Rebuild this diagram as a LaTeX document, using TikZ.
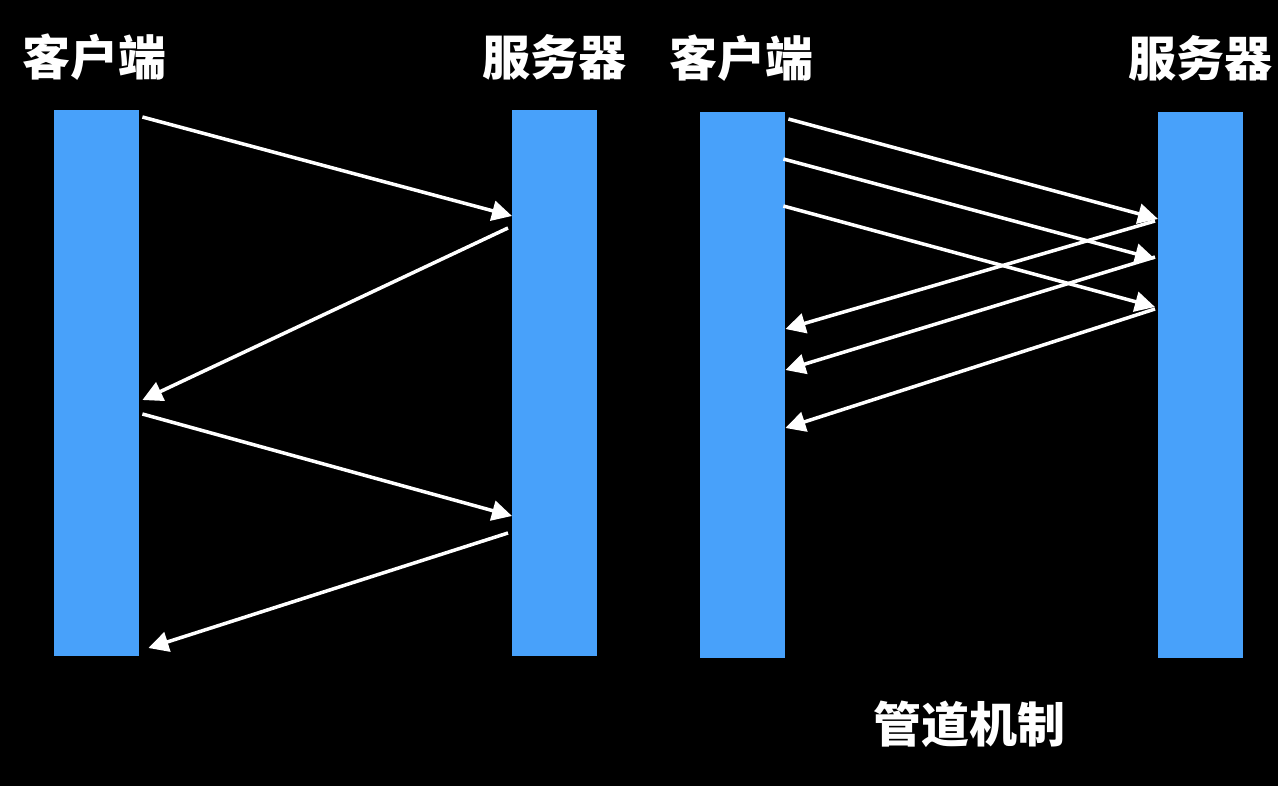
\documentclass[tikz,border=0pt]{standalone}
\usepackage{fontspec}
\newfontfamily\cjk{Noto Sans CJK SC}
\usetikzlibrary{calc,arrows.meta}
\definecolor{barblue}{RGB}{72,161,250}
\begin{document}
\begin{tikzpicture}[x=1pt,y=-1pt,
  bar/.style={fill=barblue,draw=none,inner sep=0pt,minimum width=85pt,minimum height=546pt,anchor=north west},
  lbl/.style={text=white,font=\cjk\bfseries\fontsize{48}{52}\selectfont,inner sep=0pt},
  msg/.style={draw=white,line width=3.5pt,-{Triangle[length=20pt,width=20pt]}}]
\fill[black] (0,0) rectangle (1278,786);
\useasboundingbox (0,0) rectangle (1278,786);
% bars
\node[bar] (cl) at (54,110) {};
\node[bar] (sl) at (512,110) {};
\node[bar] (cr) at (700,112) {};
\node[bar] (sr) at (1158,112) {};
% labels
\node[lbl] (t1) at (95,57) {客户端};
\node[lbl] (t2) at (554,57) {服务器};
\node[lbl] (t3) at (741,58) {客户端};
\node[lbl] (t4) at (1200,58) {服务器};
\node[lbl] (t5) at (969,724) {管道机制};
% left arrows
\draw[msg] ($(cl.north east)+(3,7)$) -- ($(sl.north west)+(0,106)$);
\draw[msg] ($(sl.north west)+(-4,118)$) -- ($(cl.north east)+(3,290)$);
\draw[msg] ($(cl.north east)+(3,304)$) -- ($(sl.north west)+(0,406)$);
\draw[msg] ($(sl.north west)+(-4,423)$) -- ($(cl.north east)+(9,538)$);
% right arrows
\draw[msg] ($(cr.north east)+(3,7)$) -- ($(sr.north west)+(0,107)$);
\draw[msg] ($(cr.north east)+(-2,47)$) -- ($(sr.north west)+(-3,147)$);
\draw[msg] ($(cr.north east)+(-2,94)$) -- ($(sr.north west)+(-3,195)$);
\draw[msg] ($(sr.north west)+(-3,109)$) -- ($(cr.north east)+(0,217)$);
\draw[msg] ($(sr.north west)+(-3,145)$) -- ($(cr.north east)+(0,258)$);
\draw[msg] ($(sr.north west)+(-3,197)$) -- ($(cr.north east)+(0,316)$);
\end{tikzpicture}
\end{document}
